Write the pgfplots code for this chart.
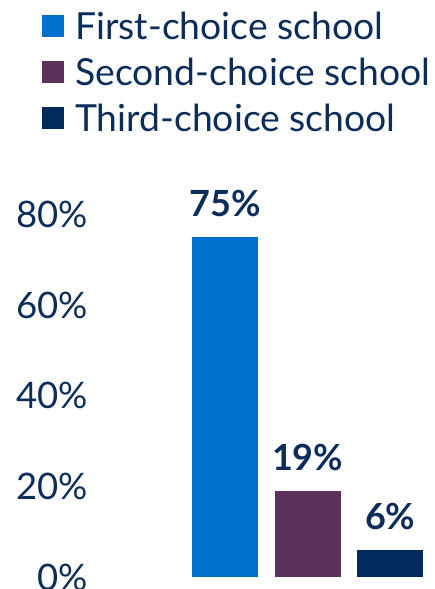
\documentclass[border=0pt]{standalone}
\usepackage{pgfplots}
\pgfplotsset{compat=1.18}
\usepackage{fontspec}
\setmainfont{Lato}
\definecolor{txt}{HTML}{0C2D5A}
\definecolor{cfirst}{HTML}{0070CE}
\definecolor{csecond}{HTML}{5C325D}
\definecolor{cthird}{HTML}{002B5C}
\begin{document}
\begin{tikzpicture}[x=1pt,y=1pt]
\path[use as bounding box] (-184,-12) rectangle (251,577);
\begin{axis}[
    at={(0,0)}, anchor=south west,
    scale only axis,
    width=247.5pt, height=362.7pt,
    xmin=-0.5, xmax=2.5, ymin=0, ymax=80,
    clip=false,
    axis line style={draw=none},
    major tick length=0pt,
    xtick=\empty,
    ytick={0,20,40,60,80},
    yticklabels={0\%,20\%,40\%,60\%,80\%},
    yticklabel style={font=\fontsize{36.5}{40}\selectfont, text=txt, inner sep=0pt, xshift=-96pt},
    ybar, bar width=66pt, bar shift=0pt,
    point meta=explicit symbolic,
    nodes near coords,
    nodes near coords style={font=\bfseries\fontsize{36}{40}\selectfont, text=txt, anchor=base, inner sep=0pt, yshift=20pt},
    legend image code/.code={\fill[#1] (0pt,-11pt) rectangle (22pt,11pt);},
    legend cell align=left,
    legend style={draw=none, fill=none, inner sep=0pt, at={(-0.5737,1.557)}, anchor=north west,
        font=\fontsize{37.3}{41}\selectfont, text=txt, row sep=19pt, column sep=11pt,
        nodes={inner sep=0pt, text height=27pt, text depth=0pt}},
]
\addplot[fill=cfirst, draw=none] coordinates {(0,75) [75\%]};
\addplot[fill=csecond, draw=none] coordinates {(1,19) [19\%]};
\addplot[fill=cthird, draw=none] coordinates {(2,6) [6\%]};
\legend{First-choice school, Second-choice school, Third-choice school}
\end{axis}
\end{tikzpicture}
\end{document}
